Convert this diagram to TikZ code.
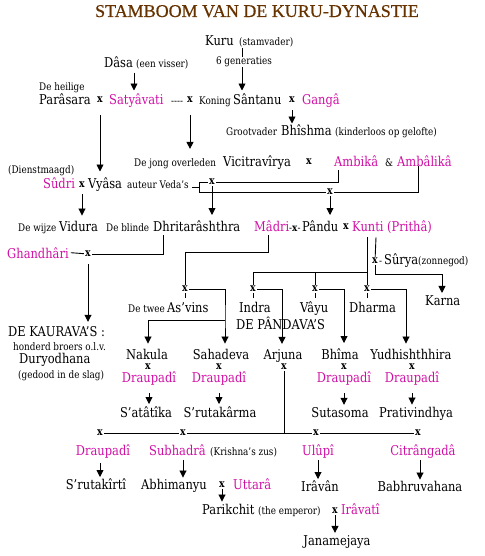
\documentclass[tikz,border=0pt]{standalone}
\usepackage{fontspec}
\setmainfont{DejaVu Serif}[FakeStretch=0.85]
\newfontfamily\titlefont{Liberation Serif}[FakeBold=0.6]
\usetikzlibrary{arrows.meta}
\definecolor{mag}{RGB}{208,16,165}
\definecolor{brn}{RGB}{102,51,0}
\newcommand\mainsz{\fontsize{13.5}{15}\selectfont}
\newcommand\smallsz{\fontsize{10.4}{12}\selectfont}
\newcommand\xsz{\fontsize{11}{12}\selectfont}
\begin{document}
\begin{tikzpicture}[x=1pt,y=-1pt,
  nm/.style={inner sep=0pt,font=\mainsz,anchor=base west},
  mg/.style={nm,text=mag},
  sm/.style={inner sep=0pt,font=\smallsz,anchor=base west},
  xm/.style={inner sep=1.2pt,font=\xsz\bfseries},
  ln/.style={line width=0.9pt},
  arr/.style={ln,-{Triangle[width=7pt,length=7pt]}}]
\useasboundingbox (0,0) rectangle (484,556);
% title
\node[inner sep=0pt,font=\titlefont\fontsize{18}{20}\selectfont,text=brn,anchor=base] (title) at (257,17) {STAMBOOM VAN DE KURU-DYNASTIE};
% columns
\coordinate (cK) at (242,48);
\coordinate (cD) at (134,73);
% Kuru
\node[nm] (kuru) at (205,45.5) {Kuru};
\node[sm] (kurun) at (239,45.5) {(stamvader)};
\node[sm,anchor=base] (gen) at (244,64.5) {6 generaties};
% Dasa
\node[nm] (dasa) at (104,67.5) {Dâsa};
\node[sm] (dasan) at (136,67.5) {(een visser)};
% row 1
\node[sm] (heil) at (39,90.5) {De heilige};
\node[nm] (paras) at (39,104.5) {Parâsara};
\node[xm] (x1) at (100,100) {x};
\node[mg] (sat) at (109,104.5) {Satyâvati};
\node[sm] (dash) at (171,104.5) {-{}-{}-{}-};
\node[xm] (x2) at (190,100) {x};
\node[sm] (kon) at (199,104.5) {Koning};
\node[nm] (santanu) at (233,104.5) {Sântanu};
\node[xm] (x3) at (292,100) {x};
\node[mg] (ganga) at (302,104.5) {Gangâ};
% Bhishma
\node[sm] (groot) at (226,135.5) {Grootvader};
\node[nm] (bhish) at (281,135.5) {Bhîshma};
\node[sm] (kind) at (335,135.5) {(kinderloos op gelofte)};
% Vicitravirya
\node[sm] (jong) at (134,166) {De jong overleden};
\node[nm] (vic) at (223,166) {Vicitravîrya};
\node[xm] (x7) at (309,162) {x};
\node[mg] (ambika) at (334,166) {Ambikâ};
\node[sm] (amp) at (385,166) {\&};
\node[mg] (ambal) at (397,166) {Ambâlikâ};
% Sudri / Vyasa
\node[sm] (dienst) at (8,173) {(Dienstmaagd)};
\node[mg] (sudri) at (43,188.5) {Sûdri};
\node[xm] (x4) at (82,185) {x};
\node[nm] (vyasa) at (88,188.5) {Vyâsa};
\node[sm] (veda) at (127,188.5) {auteur Veda’s};
\coordinate (bkm) at (199,187);
\coordinate (bkt) at (199,182);
\coordinate (bkb) at (199,192);
\node[xm] (x5) at (212,182) {x};
\node[xm] (x6) at (330,192) {x};
\coordinate (amk) at (338,170);
\coordinate (aml) at (418,166);
% Vidura row
\node[sm] (wijze) at (18,231) {De wijze};
\node[nm] (vidura) at (59,231) {Vidura};
\node[sm] (blinde) at (106,231) {De blinde};
\node[nm] (dhrit) at (153,231) {Dhritarâshthra};
\node[mg] (madri) at (254,231) {Mâdri};
\node[sm] (mx) at (289,231) {-\textbf{x}-};
\node[nm] (pandu) at (302,231) {Pându};
\node[xm] (x8) at (346,227) {x};
\node[mg] (kunti) at (352,231) {Kunti (Prithâ)};
% Ghandhari
\node[mg] (ghan) at (7,258) {Ghandhâri};
\node[xm] (x9) at (88,254) {x};
% Surya
\node[xm] (xs) at (375,261) {x};
\node[sm] (sh) at (379,264.5) {-};
\node[nm] (surya) at (384,264.5) {Sûrya};
\node[sm] (zon) at (418,264.5) {(zonnegod)};
\coordinate (kk) at (442,274);
% gods x row
\node[xm] (xa) at (185,289) {x};
\node[xm] (xi) at (253,289) {x};
\node[xm] (xv) at (315,289) {x};
\node[xm] (xd) at (367,289) {x};
\coordinate (mc) at (185,252);
\coordinate (kh) at (367,272);
\coordinate (cS) at (225,320);
\coordinate (cN) at (148,320);
\coordinate (cA) at (282,0);
\coordinate (cB) at (344,0);
\coordinate (cY) at (406,0);
% gods
\node[sm] (twee) at (128,312.5) {De twee};
\node[nm] (asv) at (167,312.5) {As’vins};
\node[nm] (indra) at (239,312.5) {Indra};
\node[nm] (vayu) at (300,312.5) {Vâyu};
\node[nm] (dharma) at (349,312.5) {Dharma};
\node[nm] (karna) at (425,305) {Karna};
\node[nm] (pandavas) at (236,329.5) {DE PÂNDAVA’S};
% Kauravas
\node[nm] (kaur) at (8,336) {DE KAURAVA’S :};
\node[sm] (hond) at (13,350) {honderd broers o.l.v.};
\node[nm] (dury) at (19,363.5) {Duryodhana};
\node[sm] (ged) at (18,378) {(gedood in de slag)};
% Pandavas
\node[nm,anchor=base] (nakula) at (147,359) {Nakula};
\node[nm,anchor=base] (sahad) at (221,359) {Sahadeva};
\node[nm,anchor=base] (arjuna) at (283,359) {Arjuna};
\node[nm,anchor=base] (bhima) at (340,359) {Bhîma};
\node[nm,anchor=base] (yudh) at (411,359) {Yudhishthhira};
\node[xm] (xn) at (148,367) {x};
\node[xm] (xsa) at (219,367) {x};
\node[xm] (xar) at (284,367) {x};
\node[xm] (xbh) at (344,367) {x};
\node[xm] (xyu) at (412,367) {x};
\node[mg,anchor=base] (dn) at (149,382) {Draupadî};
\node[mg,anchor=base] (ds) at (219,382) {Draupadî};
\node[mg,anchor=base] (db) at (344,382) {Draupadî};
\node[mg,anchor=base] (dy) at (412,382) {Draupadî};
\node[nm,anchor=base] (sata) at (146,417) {S’atâtîka};
\node[nm,anchor=base] (sruk) at (220,417) {S’rutakârma};
\node[nm,anchor=base] (suta) at (340,417) {Sutasoma};
\node[nm,anchor=base] (prat) at (416,417) {Prativindhya};
% Arjuna's wives
\node[xm] (xq1) at (100,433) {x};
\node[xm] (xq2) at (183,433) {x};
\node[xm] (xq3) at (316,433) {x};
\node[xm] (xq4) at (418,433) {x};
\node[mg,anchor=base] (d1) at (103,455) {Draupadî};
\node[mg] (sub) at (149,455) {Subhadrâ};
\node[sm] (kz) at (210,455) {(Krishna’s zus)};
\node[mg,anchor=base] (ulu) at (318,455) {Ulûpî};
\node[mg,anchor=base] (cit) at (423,455) {Citrângadâ};
\coordinate (cU) at (318,0);
\coordinate (cC) at (420,0);
\node[nm,anchor=base] (srk) at (96,489) {S’rutakîrtî};
\node[nm,anchor=base] (abhi) at (174,489) {Abhimanyu};
\node[xm] (xu) at (222,485) {x};
\node[mg] (utt) at (233,489) {Uttarâ};
\node[nm,anchor=base] (ira) at (320,491) {Irâvân};
\node[nm,anchor=base] (bab) at (420,491) {Babhruvahana};
\node[nm] (parik) at (202,514) {Parikchit};
\node[sm] (emp) at (258,514) {(the emperor)};
\node[xm] (xp) at (335,511) {x};
\node[mg] (irv) at (341,514) {Irâvatî};
\node[nm,anchor=base] (jan) at (337,545) {Janamejaya};
% ---------- connectors ----------
\draw[ln] (cK) -- (gen.north -| cK);
\draw[arr] (gen.south -| cK) -- ([yshift=3pt]santanu.north -| cK);
\draw[arr] (cD) -- ([yshift=3pt]sat.north -| cD);
\draw[arr] ([yshift=-6pt]x3.south) -- ([yshift=1pt]bhish.north -| x3);
\draw[arr] ([yshift=-11pt]x1.south) -- ([yshift=6pt]vyasa.north -| x1);
\draw[arr] ([yshift=-11pt]x2.south) -- ([yshift=9pt]jong.north -| x2);
\draw[ln] (bkm) -- ++(-7,0);
\draw[ln] (bkt) -- (bkb);
\draw[ln] (bkt) -- (x5);
\draw[ln] (x5) -| (amk);
\draw[ln] (bkb) -- (x6);
\draw[ln] (x6) -| (aml);
\draw[arr] (x5) -- ([yshift=5pt]dhrit.north -| x5);
\draw[arr] (x6) -- ([yshift=5pt]pandu.north -| x6);
\draw[arr] ([yshift=-5pt]x4.south) -- ([yshift=5pt]vidura.north -| x4);
\draw[ln] ([xshift=2pt]ghan.east) -- (x9);
\draw[ln] ([xshift=10pt,yshift=-4pt]dhrit.south west) |- (x9);
\draw[arr] ([yshift=-6pt]x9.south) -- ([yshift=4pt]kaur.north -| x9);
\draw[ln] ([xshift=14pt,yshift=-4pt]madri.south west) |- (mc) -- (xa);
\draw[ln] ([xshift=15pt,yshift=-4pt]kunti.south west) -- (xd);
\draw[ln] (kh) -| (xi);
\draw[ln] (xv) -- (xv |- kh);
\draw[ln] ([xshift=24pt,yshift=-4pt]kunti.south west) -- (xs);
\draw[arr] (xs) |- (kk) -- ([yshift=2pt]karna.north -| kk);
\foreach \n in {xa,xi,xv,xd} \draw[ln] (\n.south) -- ++(0,5);
\draw[arr] (xa) -| (cS) -- ([yshift=5pt]sahad.north -| cS);
\draw[arr] (cS) -- (cN) -- ([yshift=5pt]nakula.north -| cN);
\draw[arr] (xi) -| ([yshift=5pt]arjuna.north -| cA);
\draw[arr] (xv) -| ([yshift=5pt]bhima.north -| cB);
\draw[arr] (xd) -| ([yshift=5pt]yudh.north -| cY);
\foreach \d/\t in {dn/sata,ds/sruk,db/suta,dy/prat}
  \draw[arr] ([yshift=-8pt]\d.south) -- ([yshift=2pt]\t.north -| \d);
\draw[ln] (xar) -- (xar |- xq1);
\draw[ln] (xq1) -- (xq2);
\draw[ln] (xq2) -- (xq3);
\draw[ln] (xq3) -- (xq4);
\draw[arr] ([yshift=-5pt]d1.south -| xq1) -- ([yshift=1pt]srk.north -| xq1);
\draw[arr] ([yshift=-5pt]sub.south -| xq2) -- ([yshift=1pt]abhi.north -| xq2);
\draw[arr] ([yshift=-2pt]ulu.south -| cU) -- ([yshift=1pt]ira.north -| cU);
\draw[arr] ([yshift=-2pt]cit.south -| cC) -- ([yshift=1pt]bab.north -| cC);
\draw[arr] (xu) -- ([yshift=2pt]parik.north -| xu);
\draw[arr] (xp) -- ([yshift=2pt]jan.north -| xp);
\end{tikzpicture}
\end{document}
